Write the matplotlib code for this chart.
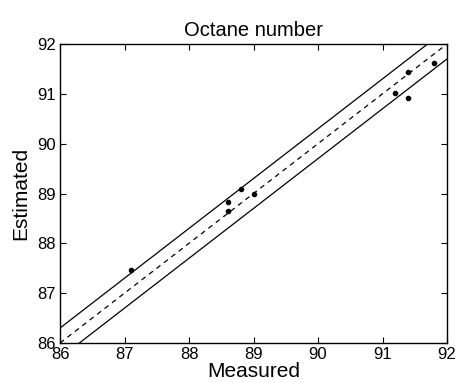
import numpy as np
import matplotlib
matplotlib.use('Agg')
import matplotlib.pyplot as plt

plt.rcParams['font.family'] = ['Liberation Sans', 'DejaVu Sans']

# measured vs estimated octane numbers
measured = [87.1, 88.6, 88.6, 88.8, 89.0, 91.2, 91.4, 91.4, 91.8]
estimated = [87.46, 88.82, 88.64, 89.1, 89.0, 91.02, 91.43, 90.91, 91.61]
band = 0.3
xlim = [86, 92]
ticks = [86, 87, 88, 89, 90, 91, 92]

fig = plt.figure(figsize=(4.57, 3.83), dpi=100)
ax = fig.add_axes([60 / 457, 1 - 343 / 383, 387 / 457, 299 / 383])

line_x = np.array(xlim, dtype=float)
ax.plot(line_x, line_x, 'k--', linewidth=0.9, dashes=(4, 3.5))
ax.plot(line_x, line_x + band, 'k-', linewidth=0.9)
ax.plot(line_x, line_x - band, 'k-', linewidth=0.9)
ax.plot(measured, estimated, 'k.', markersize=6)

ax.set_xlim(xlim)
ax.set_ylim(xlim)
ax.set_xticks(ticks)
ax.set_yticks(ticks)
ax.tick_params(direction='in', top=True, right=True, labelsize=12, length=4, pad=3)
for s in ax.spines.values():
    s.set_linewidth(1.0)

ax.set_title('Octane number', fontsize=14.5, pad=6)
ax.set_xlabel('Measured', fontsize=15, labelpad=0)
ax.set_ylabel('Estimated', fontsize=15, labelpad=5)

fig.savefig('out.png', dpi=100)
